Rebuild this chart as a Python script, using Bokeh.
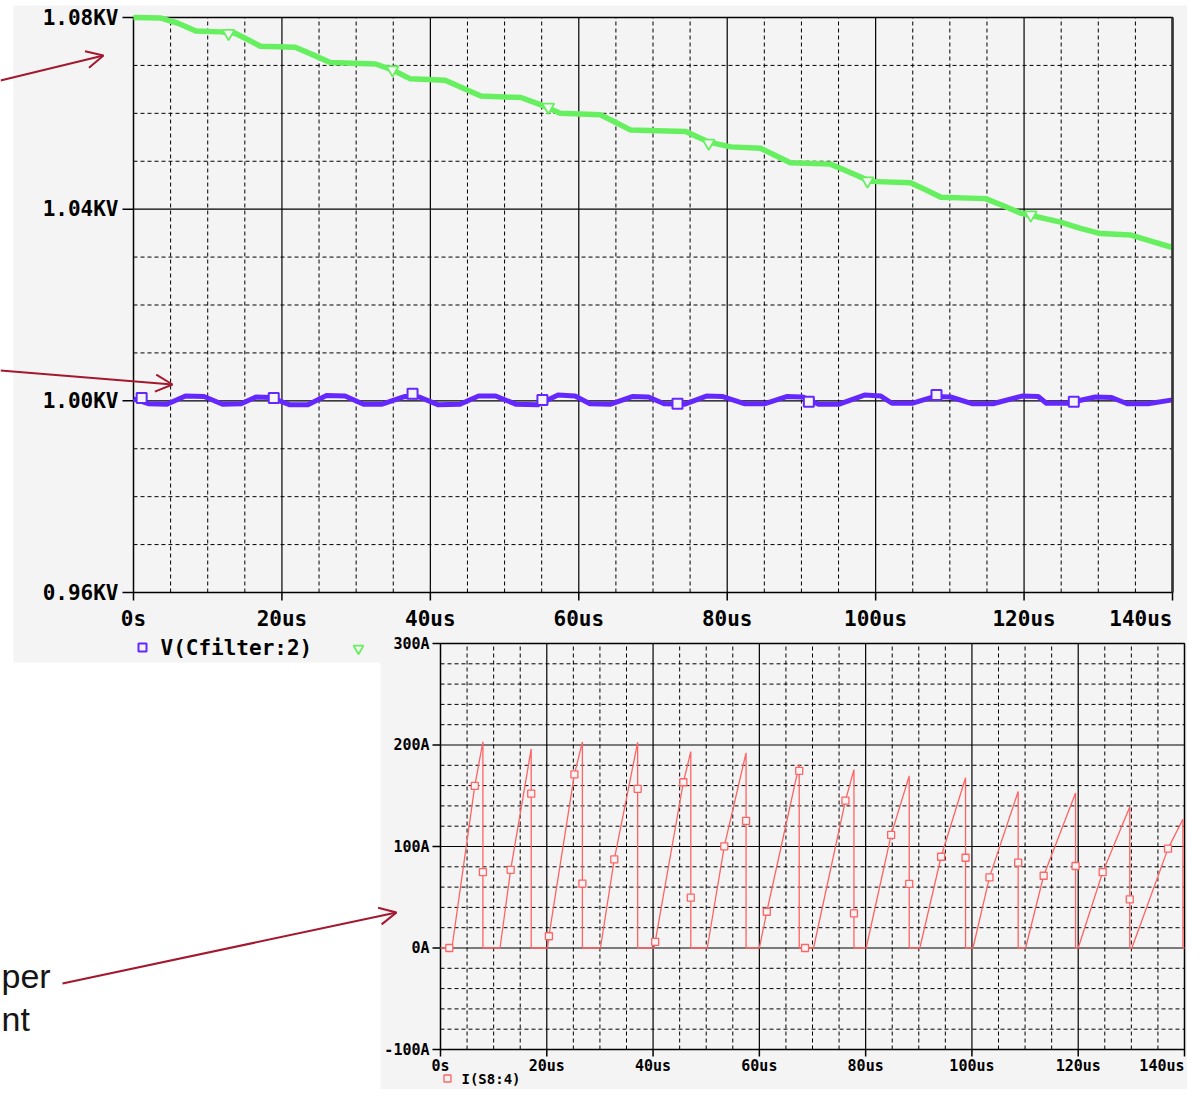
import numpy as np
from bokeh.plotting import figure
from bokeh.models import Range1d, Arrow, OpenHead
from bokeh.core.properties import value
from bokeh.embed import file_html
from bokeh.resources import INLINE

# ---------------- data ----------------
X_TICKS = [0, 20, 40, 60, 80, 100, 120, 140]
X_LABELS = ["0s", "20us", "40us", "60us", "80us", "100us", "120us", "140us"]
TOP_Y_TICKS = [0.96, 1.00, 1.04, 1.08]
TOP_Y_LABELS = ["0.96KV", "1.00KV", "1.04KV", "1.08KV"]
BOT_Y_TICKS = [-100, 0, 100, 200, 300]
BOT_Y_LABELS = ["-100A", "0A", "100A", "200A", "300A"]

# green trace (us, kV)
GREEN_T = [0.0, 3.6, 6.0, 8.4, 11.7, 13.7, 15.5, 17.1, 21.8, 24.2,
           26.5, 32.6, 35.0, 37.3, 42.0, 44.5, 46.8, 52.2, 55.0, 57.5,
           62.9, 65.0, 67.0, 74.4, 77.5, 80.5, 84.5, 86.5, 88.5, 93.9,
           96.5, 99.3, 104.7, 106.8, 108.8, 114.8, 117.2, 119.5, 124.9, 127.6,
           130.3, 134.4, 137.2, 140.0]
GREEN_V = [1.0800, 1.0799, 1.0788, 1.0772, 1.0770, 1.0767, 1.0753, 1.0740, 1.0738, 1.0722,
           1.0706, 1.0703, 1.0690, 1.0672, 1.0669, 1.0652, 1.0636, 1.0633, 1.0617, 1.0600,
           1.0597, 1.0581, 1.0565, 1.0562, 1.0540, 1.0530, 1.0527, 1.0512, 1.0497, 1.0494,
           1.0477, 1.0458, 1.0455, 1.0440, 1.0425, 1.0422, 1.0407, 1.0392, 1.0373, 1.0360,
           1.0349, 1.0346, 1.0333, 1.0320]
GREEN_MARK_T = [12.8, 34.9, 55.9, 77.5, 98.9, 120.9]
GREEN_MARK_V = [1.0767, 1.0691, 1.0613, 1.0538, 1.0459, 1.0388]

# V(Cfilter:2) (us, kV)
BLUE_T = [0.0, 2.0, 4.5, 7.0, 9.5, 12.0, 14.5, 16.5, 18.5, 21.0, 23.5, 26.0, 28.5,
          31.0, 33.5, 36.5, 38.5, 41.0, 44.0, 46.5, 48.8, 51.5, 54.5, 57.2, 59.5,
          61.5, 64.3, 67.2, 69.4, 71.5, 74.3, 77.2, 79.4, 82.3, 85.1, 88.0, 90.2,
          92.3, 95.1, 98.5, 100.7, 102.2, 105.0, 107.9, 110.1, 113.0, 115.8, 119.7,
          121.9, 123.0, 125.8, 129.6, 131.8, 133.9, 136.7, 140.0]
BLUE_V = [1.0004, 0.9994, 0.9993, 1.0010, 1.0009, 0.9993, 0.9994, 1.0008, 1.0007,
          0.9992, 0.9992, 1.0011, 1.0010, 0.9993, 0.9993, 1.0009, 1.0008, 0.9992,
          0.9993, 1.0010, 1.0010, 0.9993, 0.9992, 1.0012, 1.0010, 0.9994, 0.9993,
          1.0009, 1.0008, 0.9994, 0.9993, 1.0010, 1.0009, 0.9994, 0.9994, 1.0009,
          1.0008, 0.9993, 0.9993, 1.0012, 1.0010, 0.9995, 0.9995, 1.0009, 1.0008,
          0.9994, 0.9994, 1.0010, 1.0009, 0.9995, 0.9995, 1.0008, 1.0007, 0.9994,
          0.9994, 1.0002]
BLUE_MARK_T = [1.1, 18.9, 37.6, 55.1, 73.3, 91.0, 108.2, 126.7]
BLUE_MARK_V = [1.0006, 1.0006, 1.0015, 1.0002, 0.9994, 0.9998, 1.0012, 0.9998]

# I(S8:4) (us, A)
RED_T = [0.0, 2.15, 6.45, 7.98, 7.98, 11.2, 13.2, 17.07, 17.07, 20.14, 20.4, 25.2, 26.7, 26.7,
         30.1, 32.7, 37.1, 37.1, 40.2, 40.4, 45.7, 47.1, 47.1, 50.2, 53.4, 57.5, 57.5,
         60.0, 61.4, 67.5, 67.5, 70.2, 76.2, 77.8, 77.8, 80.1, 84.8, 88.2, 88.2,
         90.2, 94.2, 98.8, 98.8, 100.2, 103.3, 108.7, 108.7, 110.1, 113.5, 119.5, 119.5,
         120.0, 124.6, 129.7, 129.7, 130.1, 136.9, 139.7, 139.7, 140.0]
RED_I = [0, 0, 159.7, 203.2, 0, 0, 77.0, 196.1, 0, 0, 11.6, 171.0, 203.0, 0,
         0, 87.3, 202.6, 0, 0, 6.1, 163.3, 193.5, 0, 0, 100.2, 192.3, 0,
         0, 35.7, 180.7, 0, 0, 145.2, 175.8, 0, 0, 111.4, 169.4, 0,
         0, 89.9, 167.8, 0, 0, 69.6, 154.3, 0, 0, 71.2, 152.7, 0,
         0, 74.7, 138.8, 0, 0, 97.9, 126.9, 0, 0]
RED_MARK_T = [1.66, 6.45, 7.98, 13.2, 17.07, 20.4, 25.2, 26.7, 32.7, 37.1,
              40.4, 45.7, 47.1, 53.4, 57.5, 61.4, 67.5, 68.6, 76.2, 77.8,
              84.8, 88.2, 94.2, 98.8, 103.3, 108.7, 113.5, 119.5, 124.6, 129.7, 136.9]
RED_MARK_I = [0, 159.7, 74.7, 77.0, 152.0, 11.6, 171.0, 63.5, 87.3, 156.8,
              6.1, 163.3, 49.6, 100.2, 125.3, 35.7, 174.6, 0, 145.2, 34.1,
              111.4, 63.1, 89.9, 88.9, 69.6, 84.1, 71.2, 80.8, 74.7, 48.0, 97.9]

TOP_LEGEND = "V(Cfilter:2)"
BOT_LEGEND = "I(S8:4)"
SIDE_TEXT = ["per", "nt"]

# ---------------- styling ----------------
BG = "#f4f4f4"
GREEN = "#66f060"
BLUE = "#6428ff"
RED = "#ff6464"
ARROW = "#a3182f"
MONO = value("DejaVu Sans Mono")

W, H = 1187, 1089

p = figure(width=W, height=H, x_range=Range1d(0, W), y_range=Range1d(H, 0),
           x_axis_type=None, y_axis_type=None, min_border=0,
           toolbar_location=None, output_backend="svg",
           background_fill_color="white", border_fill_color="white",
           outline_line_color=None)
p.xgrid.visible = False
p.ygrid.visible = False


def xr_for(p0, p1, v0, v1):
    s = (v1 - v0) / (p1 - p0)
    return Range1d(start=v0 - p0 * s, end=v0 + (W - p0) * s)


def yr_for(p0, p1, v0, v1):
    s = (v1 - v0) / (p1 - p0)
    return Range1d(start=v0 + (H - p0) * s, end=v0 - p0 * s)


# chart frames (pixels from the top-left of the picture)
T_L, T_R, T_T, T_B = 133, 1172, 17, 592
B_L, B_R, B_T, B_B = 440, 1184, 643, 1049

p.extra_x_ranges = {"tx": xr_for(T_L, T_R, 0, 140), "bx": xr_for(B_L, B_R, 0, 140)}
p.extra_y_ranges = {"ty": yr_for(T_T, T_B, 1.08, 0.96), "by": yr_for(B_T, B_B, 300, -100)}

LABS = {"ty": TOP_Y_LABELS, "by": BOT_Y_LABELS}


def chart(xr, yr, yticks, y_minor, ylo, yhi, tick_x0, tick_x1, frame_bottom_px, xtick_len,
          ylab_x, font, xlab_y):
    kw = dict(x_range_name=xr, y_range_name=yr)
    x_minor = [t for t in range(5, 140, 5) if t % 20]
    p.segment(x0=x_minor, y0=[ylo] * len(x_minor), x1=x_minor, y1=[yhi] * len(x_minor),
              line_color="black", line_width=1, line_dash="4 3", **kw)
    p.segment(x0=[0] * len(y_minor), y0=y_minor, x1=[140] * len(y_minor), y1=y_minor,
              line_color="black", line_width=1, line_dash="4 3", **kw)
    xm = X_TICKS[1:-1]
    p.segment(x0=xm, y0=[ylo] * len(xm), x1=xm, y1=[yhi] * len(xm),
              line_color="black", line_width=1.2, **kw)
    ym = yticks[1:-1]
    p.segment(x0=[0] * len(ym), y0=ym, x1=[140] * len(ym), y1=ym,
              line_color="black", line_width=1.2, **kw)
    p.quad(left=[0], right=[140], bottom=[ylo], top=[yhi], fill_color=None,
           line_color="black", line_width=1.5, **kw)
    p.segment(x0=[tick_x0] * len(yticks), y0=yticks, x1=[tick_x1] * len(yticks), y1=yticks,
              line_color="black", line_width=1.5, y_range_name=yr)
    p.segment(x0=X_TICKS, y0=[frame_bottom_px] * 8, x1=X_TICKS,
              y1=[frame_bottom_px + xtick_len] * 8,
              line_color="black", line_width=1.5, x_range_name=xr)
    tkw = dict(text_baseline="middle", text_font=MONO, text_font_style="bold",
               text_font_size=font, text_color="black")
    p.text(x=[ylab_x] * len(yticks), y=yticks, text=LABS[yr], y_range_name=yr,
           text_align="right", **tkw)
    p.text(x=X_TICKS[:-1], y=[xlab_y] * 7, text=X_LABELS[:-1], x_range_name=xr,
           text_align="center", **tkw)
    p.text(x=X_TICKS[-1:], y=[xlab_y], text=X_LABELS[-1:], x_range_name=xr,
           text_align="right", **tkw)


# ---------- top panel ----------
p.quad(left=[13], right=[1190], top=[5], bottom=[662], fill_color=BG, line_color=None)
chart("tx", "ty", TOP_Y_TICKS,
      [0.97, 0.98, 0.99, 1.01, 1.02, 1.03, 1.05, 1.06, 1.07],
      0.96, 1.08, 122, T_L, T_B, 8, 118, "21px", 618)
p.line(BLUE_T, BLUE_V, x_range_name="tx", y_range_name="ty",
       line_color=BLUE, line_width=5, line_join="round")
p.line(GREEN_T, GREEN_V, x_range_name="tx", y_range_name="ty",
       line_color=GREEN, line_width=5.5, line_join="round")
p.scatter(BLUE_MARK_T, BLUE_MARK_V, x_range_name="tx", y_range_name="ty",
          marker="square", size=10, line_color=BLUE, line_width=2, fill_color=BG)
p.scatter(GREEN_MARK_T, GREEN_MARK_V, x_range_name="tx", y_range_name="ty",
          marker="inverted_triangle", size=12, line_color=GREEN, line_width=1.8,
          fill_color=BG)
p.segment(x0=[140], y0=[0.96], x1=[140], y1=[1.08], x_range_name="tx",
          y_range_name="ty", line_color="#333333", line_width=2.5)
# top legend
p.scatter(x=[142], y=[647], marker="square", size=8, line_color=BLUE,
          line_width=2, fill_color=BG)
p.text(x=[160], y=[647], text=[TOP_LEGEND], text_align="left",
       text_baseline="middle", text_font=MONO, text_font_style="bold",
       text_font_size="21px", text_color="black")
p.scatter(x=[358], y=[648], marker="inverted_triangle", size=10,
          line_color=GREEN, line_width=1.8, fill_color=BG)

# ---------- bottom panel ----------
p.quad(left=[380], right=[W + 20], top=[632], bottom=[H + 20], fill_color=BG, line_color=None)
chart("bx", "by", BOT_Y_TICKS,
      [v for v in range(-80, 300, 20) if v % 100],
      -100, 300, 432, B_L, B_B, 7, 429, "15px", 1065)
p.line(RED_T, RED_I, x_range_name="bx", y_range_name="by",
       line_color=RED, line_width=1.3)
p.scatter(RED_MARK_T, RED_MARK_I, x_range_name="bx", y_range_name="by",
          marker="square", size=7, line_color=RED, line_width=1.3, fill_color=BG)
p.scatter(x=[447], y=[1078], marker="square", size=7, line_color=RED,
          line_width=1.3, fill_color=BG)
p.text(x=[461], y=[1078], text=[BOT_LEGEND], text_align="left",
       text_baseline="middle", text_font=MONO, text_font_style="bold",
       text_font_size="14px", text_color="black")

# ---------- slide text and arrows ----------
p.text(x=[1, 1], y=[975, 1018], text=SIDE_TEXT,
       text_align="left", text_baseline="alphabetic",
       text_font=value("Liberation Sans"), text_font_size="34px", text_color="#151515")

for (xs, ys, xe, ye) in [(0, 80, 103, 55), (0, 370, 172, 384), (62, 983, 396, 912)]:
    p.add_layout(Arrow(end=OpenHead(size=17, line_color=ARROW, line_width=2),
                       x_start=xs, y_start=ys, x_end=xe, y_end=ye,
                       line_color=ARROW, line_width=2))

open("out.html", "w").write(file_html(p, INLINE))
